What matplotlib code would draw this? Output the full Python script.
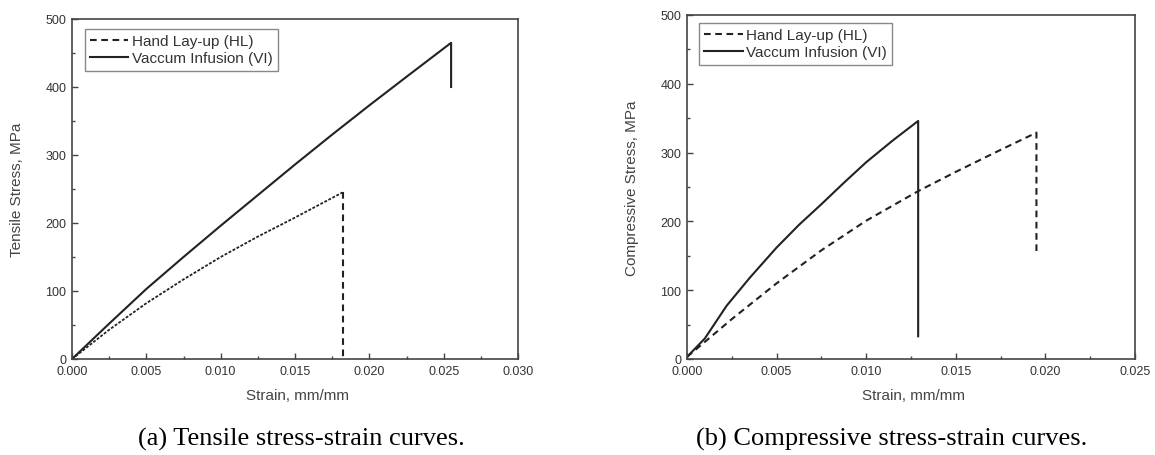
import matplotlib
matplotlib.use("Agg")
import matplotlib.pyplot as plt
from matplotlib.ticker import MultipleLocator, FormatStrFormatter

plt.rcParams["font.family"] = ["Liberation Sans", "DejaVu Sans"]

# (a) tensile curves
ten_hl_strain = [0.0, 0.0025, 0.005, 0.0075, 0.010, 0.0125, 0.015, 0.0182, 0.0182]
ten_hl_stress = [0, 43, 82, 117, 150, 180, 208, 245, 0]
ten_vi_strain = [0.0, 0.0025, 0.005, 0.0075, 0.010, 0.0125, 0.015, 0.0175, 0.020, 0.0225, 0.0255, 0.0255]
ten_vi_stress = [0, 52, 103, 150, 196, 241, 286, 330, 373, 415, 465, 400]

# (b) compressive curves
com_hl_strain = [0.0, 0.0025, 0.005, 0.0075, 0.010, 0.0129, 0.015, 0.0175, 0.0195, 0.0195]
com_hl_stress = [3, 58, 110, 158, 201, 244, 272, 304, 329, 156]
com_vi_strain = [0.0, 0.001, 0.0022, 0.0035, 0.005, 0.00625, 0.0075, 0.00875, 0.010, 0.0115, 0.0129, 0.0129]
com_vi_stress = [3, 30, 77, 118, 162, 195, 225, 256, 286, 318, 346, 33]

hl_label = "Hand Lay-up (HL)"
vi_label = "Vaccum Infusion (VI)"

W, H = 1155, 456
fig = plt.figure(figsize=(W / 100, H / 100), dpi=100)


def px_axes(x0, y0, x1, y1):
    return fig.add_axes([x0 / W, 1 - y1 / H, (x1 - x0) / W, (y1 - y0) / H])


def style_axes(ax, xmax, ylabel, leg_anchor, xlab_y):
    ax.set_xlim(0, xmax)
    ax.set_ylim(0, 500)
    ax.xaxis.set_major_locator(MultipleLocator(0.005))
    ax.xaxis.set_minor_locator(MultipleLocator(0.0025))
    ax.xaxis.set_major_formatter(FormatStrFormatter("%.3f"))
    ax.yaxis.set_major_locator(MultipleLocator(100))
    ax.yaxis.set_minor_locator(MultipleLocator(50))
    ax.tick_params(which="both", direction="in", top=False, right=False,
                   colors="#444444", labelcolor="#333333", labelsize=9, width=1.0)
    ax.tick_params(which="major", length=4.5, pad=4)
    ax.tick_params(which="minor", length=2.2)
    for s in ax.spines.values():
        s.set_color("#444444")
        s.set_linewidth(1.2)
    ax.set_xlabel("Strain, mm/mm", fontsize=11, color="#444444")
    ax.set_ylabel(ylabel, fontsize=11, color="#444444")
    ax.xaxis.set_label_coords(0.505, xlab_y)
    ax.yaxis.set_label_coords(-0.108, 0.5)
    leg = ax.legend(loc="upper left", bbox_to_anchor=leg_anchor, borderaxespad=0,
                    fontsize=11, handlelength=2.5, handletextpad=0.2,
                    borderpad=0.35, labelspacing=0.2, fancybox=False, framealpha=1)
    leg.get_frame().set_edgecolor("#888888")
    leg.get_frame().set_linewidth(1.0)
    for t in leg.get_texts():
        t.set_color("#333333")


# left panel
ax1 = px_axes(72, 20, 518, 360)
ax1.plot(ten_hl_strain[-2:], ten_hl_stress[-2:], color="#222222", lw=1.5,
         dashes=(3.2, 2.2), label=hl_label)
ax1.plot(ten_hl_strain[:-1], ten_hl_stress[:-1], color="#222222", lw=1.3,
         dashes=(1.6, 0.9))
ax1.plot(ten_vi_strain, ten_vi_stress, color="#222222", lw=1.5, label=vi_label)
style_axes(ax1, 0.030, "Tensile Stress, MPa", (0.029, 0.971), -0.085)

# right panel
ax2 = px_axes(687, 16, 1135, 360)
ax2.plot(com_hl_strain, com_hl_stress, color="#222222", lw=1.5,
         dashes=(3.2, 2.2), label=hl_label)
ax2.plot(com_vi_strain, com_vi_stress, color="#222222", lw=1.5, label=vi_label)
style_axes(ax2, 0.025, "Compressive Stress, MPa", (0.027, 0.977), -0.084)

fig.text(301 / W, 0.036, "(a) Tensile stress-strain curves.", ha="center", va="center",
         fontsize=19, family="Liberation Serif", color="black")
fig.text(892 / W, 0.036, "(b) Compressive stress-strain curves.", ha="center", va="center",
         fontsize=19, family="Liberation Serif", color="black")

fig.savefig("out.png", dpi=100)
